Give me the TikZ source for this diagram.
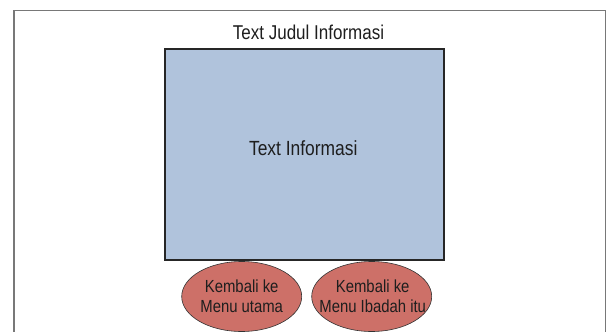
\documentclass[tikz,border=0pt]{standalone}
\usepackage{fontspec}
\setmainfont{Liberation Sans}
\newfontfamily\narrowsans[FakeStretch=0.85]{Liberation Sans}
\usetikzlibrary{shapes.geometric}
\definecolor{infoblue}{RGB}{176,195,220}
\definecolor{btnred}{RGB}{205,112,104}
\definecolor{framegray}{RGB}{120,120,120}
\definecolor{txt}{RGB}{30,30,30}
\tikzset{
  frameline/.style={draw=framegray, line width=1.3pt},
  infobox/.style={draw=black!85, line width=1.2pt, fill=infoblue, inner sep=0pt},
  btn/.style={ellipse, draw=black!80, line width=0.6pt, fill=btnred, inner sep=0pt,
    minimum width=120pt, minimum height=70pt},
  btntext/.style={align=center, text=txt, inner sep=0pt,
    font=\narrowsans\fontsize{17.5}{20}\selectfont},
  ttl/.style={text=txt, inner sep=0pt, font=\narrowsans\fontsize{20}{24}\selectfont}
}
\begin{document}
\begin{tikzpicture}[x=1pt,y=-1pt]
\useasboundingbox (0,0) rectangle (611,332);
\clip (0,0) rectangle (611,332);
\fill[white] (0,0) rectangle (611,332);
\draw[frameline] (14,10.7) rectangle (605.5,345);
\node[ttl, anchor=base] (title) at (308.5,39) {Text Judul Informasi};
\node[infobox, minimum width=279pt, minimum height=211pt] (info) at (304.5,154.5) {};
\node[ttl, anchor=base, font=\narrowsans\fontsize{20.5}{24}\selectfont] (infotext) at (303.3,155.7) {Text Informasi};
\node[btn] (back1) at (241.7,296.5) {};
\node[btn] (back2) at (371.7,296.5) {};
\node[btntext] (back1text) at (back1.center) {Kembali ke\\Menu utama};
\node[btntext] (back2text) at ([xshift=1pt]back2.center) {Kembali ke\\Menu Ibadah itu};
\end{tikzpicture}
\end{document}
